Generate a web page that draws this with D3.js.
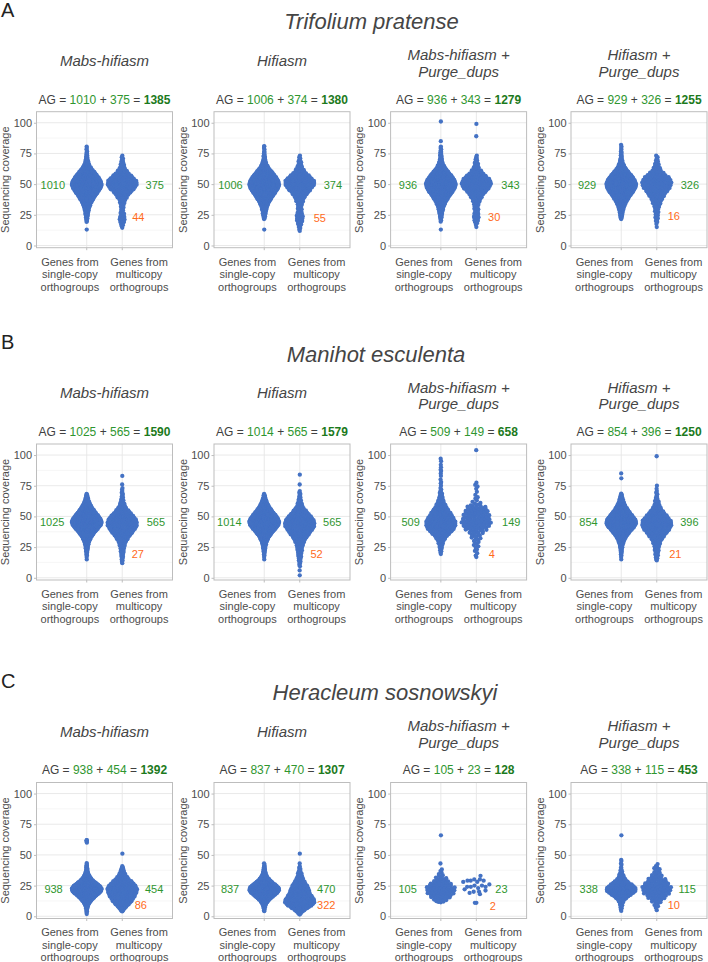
<!DOCTYPE html>
<html><head><meta charset="utf-8">
<script src="https://cdn.jsdelivr.net/npm/d3@7"></script>
<style>
body{margin:0;background:#fff}
svg{display:block}
text{font-family:"Liberation Sans",Arial,Helvetica,sans-serif;white-space:pre}
</style>
</head><body>
<svg id="chart" width="708" height="962"></svg>
<script>
// ---------------- DATA ----------------
const rowLetters = ["A", "B", "C"];
const species = ["Trifolium pratense", "Manihot esculenta", "Heracleum sosnowskyi"];
const methods = [["Mabs-hifiasm"], ["Hifiasm"], ["Mabs-hifiasm +", "Purge_dups"], ["Hifiasm +", "Purge_dups"]];
const categories = [["Genes from", "single-copy", "orthogroups"], ["Genes from", "multicopy", "orthogroups"]];
const yTicks = [0, 25, 50, 75, 100];
const yMinor = [12.5, 37.5, 62.5, 87.5];
const yTitle = "Sequencing coverage";

// gene counts per panel (single-copy, multicopy) and low-coverage multicopy counts
const singleCounts = [[1010, 1006, 936, 929], [1025, 1014, 509, 854], [938, 837, 105, 338]];
const multiCounts = [[375, 374, 343, 326], [565, 565, 149, 396], [454, 470, 23, 115]];
const lowCounts = [[44, 55, 30, 16], [27, 52, 4, 21], [86, 322, 2, 10]];
const lowLabelValue = [[23.2, 22.4, 23, 24.3], [19.5, 19.5, 19, 19.5], [8.7, 8.7, 8.2, 8.7]];

// coverage distributions: number of genes per 2.5-unit coverage bin,
// starting at the given bin centre; order = p1 single, p1 multi, p2 single, ...
const binWidth = 2.5;
const trifoliumStart = [20, 15, 22.5, 12.5, 20, 15, 22.5, 15];
const trifoliumBins = [
  [3,6,9,12,17,23,33,46,60,76,92,108,115,104,90,74,55,35,20,12,7,5,3,2,2],
  [2,4,9,10,6,4,4,5,7,10,16,24,32,44,50,48,36,26,16,9,6,4,3,2],
  [5,9,12,17,23,33,46,60,76,92,106,112,104,90,74,55,35,20,12,7,5,3,2,2],
  [2,3,5,9,11,9,6,5,6,8,11,16,22,30,38,48,46,36,24,14,9,6,4,3,2],
  [2,5,8,11,16,21,31,43,56,71,86,100,104,97,84,68,50,32,19,11,7,5,4,3,2],
  [1,2,6,8,7,5,5,6,8,11,15,22,29,38,44,42,33,24,14,8,6,4,3,2],
  [5,8,11,16,22,32,44,57,72,87,101,104,96,83,66,48,30,18,10,6,4,3,2,2],
  [1,1,3,4,4,4,5,7,10,13,17,22,28,34,38,38,34,22,12,8,6,4,3,2]
];
const trifoliumIsolated = [[13], [], [13, 81], [], [13, 85, 101], [89, 99], [82], []];

const manihotStart = [17.5, 12.5, 17.5, 10, 20, 17.5, 15, 15];
const manihotBins = [
  [2,4,7,10,15,22,34,50,70,92,118,130,122,100,80,60,42,28,17,10,4],
  [2,3,4,6,7,9,12,17,25,35,46,56,64,66,60,50,37,24,14,9,6,4,3,2,2],
  [2,4,7,10,15,22,34,50,70,92,116,126,120,100,80,60,42,28,17,10,4],
  [2,3,5,6,8,9,11,14,19,26,35,45,55,62,63,57,47,34,22,13,8,6,4,3,2],
  [2,3,5,7,10,16,26,38,50,55,55,50,42,36,28,20,14,10,7,5,3,2],
  [2,1,2,2,3,3,4,5,7,12,14,16,13,12,12,12,11,4,2,2,1,1,1,2,1],
  [1,2,3,5,8,12,19,29,43,60,78,100,108,100,80,64,48,34,23,15,9,5],
  [3,4,5,6,7,9,12,18,25,32,40,45,46,40,32,24,16,10,7,5,3,2,2,1,1]
];
const manihotIsolated = [[15], [76, 83], [15], [2, 6, 76, 84], [75, 77, 78, 80, 83, 85, 87, 88, 90, 92, 95, 97], [104], [81, 85], [99]];

const heracleumStart = [2.5, 5, 5, 2.5, 12.5, 0, 5, 5];
const heracleumBins = [
  [2,4,10,22,45,75,110,155,165,140,90,55,30,15,8,5,3],
  [6,14,28,37,44,50,56,58,52,40,26,16,10,6,3],
  [3,8,18,38,68,105,140,150,120,80,48,25,14,8,5,2],
  [6,18,40,62,66,55,42,40,38,30,22,15,10,7,4,2],
  [8,10,13,16,17,14,10,7,4,2,2],
  [],
  [2,4,6,10,22,40,60,66,50,32,18,10,6,3,1],
  [1,2,3,5,9,12,15,16,14,12,9,6,4,3,3,1]
];
const heracleumIsolated = [[60, 61, 62, 62], [51], [], [43, 51], [43, 66],
  [11, 11, 18, 19, 20, 20, 21, 22, 23, 24, 24, 24, 25, 25, 26, 28, 28, 29, 29, 29, 30, 30, 33],
  [42, 43, 45, 46, 66], []];

const rowStarts = [trifoliumStart, manihotStart, heracleumStart];
const rowBins = [trifoliumBins, manihotBins, heracleumBins];
const rowIsolated = [trifoliumIsolated, manihotIsolated, heracleumIsolated];

// ---------------- LAYOUT / STYLE ----------------
const rowTop = [111.7, 444, 782.5];
const panelLeft = [36.5, 214, 390.6, 571];
const panelW = 136, panelH = 136;
const titleX = [371.5, 376, 385];
const catLabelDx = 34.6;
const leftLabelDx = [[21.7, 21.6, 23.7, 25], [22.3, 22.7, 21, 23.6], [24, 25, 24, 23.3]];
const rightLabelDx = [[23.3, 24, 25, 24], [24.4, 23.3, 25.7, 23.4], [22.7, 17.3, 19, 21.7]];
const lowLabelDx = [[10, 14, 11.7, 11], [9.4, 10.7, 12.4, 12.4], [12.4, 17.3, 13.4, 11]];
const C = {
  dot: "#4472c4", green: "#2f962f", greenBold: "#1c7a1c", orange: "#ff6a1a",
  text: "#4d4d4d", title: "#454545", grid: "#e6e6e6", minor: "#f2f2f2", border: "#bdbdbd"
};
const quasiWidth = 0.42;
const dotR = 2.15;

// ---------------- HELPERS ----------------
function vdc(n) { let v = 0, d = 1; while (n > 0) { d *= 2; v += (n % 2) / d; n = Math.floor(n / 2); } return v; }

function groupValues(start, counts, extra) {
  const vals = [];
  counts.forEach((c, i) => {
    const centre = start + i * binWidth;
    for (let j = 0; j < c; j++) vals.push(centre - binWidth / 2 + (j + 0.5) * binWidth / c);
  });
  return vals.concat(extra);
}

function quasiOffsets(vals) {
  const n = vals.length;
  if (n < 2) return vals.map(() => 0);
  const sorted = vals.slice().sort((a, b) => a - b);
  const sd = d3.deviation(sorted);
  const iqr = d3.quantile(sorted, 0.75) - d3.quantile(sorted, 0.25);
  let lo = Math.min(sd, iqr / 1.34); if (!(lo > 0)) lo = sd || 1;
  const bw = 0.9 * lo * Math.pow(n, -0.2);
  const dens = vals.map(v => { let s = 0; for (const w of sorted) { const z = (v - w) / bw; s += Math.exp(-0.5 * z * z); } return s; });
  const mx = d3.max(dens);
  const order = d3.range(n).sort((a, b) => vals[a] - vals[b]);
  const rank = new Array(n); order.forEach((idx, r) => rank[idx] = r + 1);
  return vals.map((v, i) => (vdc(rank[i]) - 0.5) * 2 * dens[i] / mx);
}

// ---------------- DRAW ----------------
const svg = d3.select("#chart");

rowLetters.forEach((letter, r) => {
  const top = rowTop[r];
  const y = d3.scaleLinear().domain([-1.8, 109]).range([top + panelH, top]);
  const g = svg.append("g");

  g.append("text").attr("x", 1).attr("y", top - 94.8).attr("font-size", 20).attr("fill", "#222").text(letter);
  g.append("text").attr("x", titleX[r]).attr("y", top - 82.5).attr("text-anchor", "middle")
    .attr("font-size", 22).attr("font-style", "italic").attr("fill", C.title).text(species[r]);

  methods.forEach((m, p) => {
    const left = panelLeft[p];
    const cx = left + panelW / 2;
    const x = d3.scalePoint().domain([0, 1]).range([left, left + panelW]).padding(1.415);
    const step = x.step();
    const pg = g.append("g");

    // subtitle
    const subs = m.length === 1 ? [top - 51] : [top - 56.5, top - 40];
    m.forEach((s, i) => pg.append("text").attr("x", cx).attr("y", subs[i]).attr("dy", "0.35em")
      .attr("text-anchor", "middle").attr("font-size", 15).attr("font-style", "italic").attr("fill", C.title).text(s));

    // AG line
    const sc = singleCounts[r][p], mc = multiCounts[r][p];
    const ag = pg.append("text").attr("x", cx).attr("y", top - 12.3).attr("dy", "0.35em")
      .attr("text-anchor", "middle").attr("font-size", 12).attr("fill", "#404040");
    ag.append("tspan").text("AG = ");
    ag.append("tspan").attr("fill", C.green).text(sc);
    ag.append("tspan").text(" + ");
    ag.append("tspan").attr("fill", C.green).text(mc);
    ag.append("tspan").text(" = ");
    ag.append("tspan").attr("fill", C.greenBold).attr("font-weight", "bold").text(sc + mc);

    // grid
    pg.selectAll(".mn").data(yMinor).join("line").attr("x1", left).attr("x2", left + panelW)
      .attr("y1", d => y(d)).attr("y2", d => y(d)).attr("stroke", C.minor).attr("stroke-width", 0.7);
    pg.selectAll(".mj").data(yTicks).join("line").attr("x1", left).attr("x2", left + panelW)
      .attr("y1", d => y(d)).attr("y2", d => y(d)).attr("stroke", C.grid).attr("stroke-width", 0.9);
    pg.selectAll(".vx").data([0, 1]).join("line").attr("x1", d => x(d)).attr("x2", d => x(d))
      .attr("y1", top).attr("y2", top + panelH).attr("stroke", C.grid).attr("stroke-width", 0.9);

    // y axis
    const yAxis = d3.axisLeft(y).tickValues(yTicks).tickSize(2.5).tickPadding(2);
    const ya = pg.append("g").attr("transform", `translate(${left},0)`).call(yAxis);
    ya.select(".domain").remove();
    ya.selectAll(".tick line").attr("stroke", C.border);
    ya.selectAll(".tick text").attr("fill", C.text).attr("font-size", 11)
      .attr("font-family", "'Liberation Sans',Arial,sans-serif");
    pg.append("text").attr("transform", `translate(${left - 31},${top + panelH / 2}) rotate(-90)`)
      .attr("text-anchor", "middle").attr("dy", "0.35em").attr("font-size", 11).attr("fill", C.text).text(yTitle);

    // x axis ticks & labels
    [0, 1].forEach(k => {
      pg.append("line").attr("x1", x(k)).attr("x2", x(k)).attr("y1", top + panelH).attr("y2", top + panelH + 2.5).attr("stroke", C.border);
      const lx = cx + (k === 0 ? -catLabelDx : catLabelDx);
      categories[k].forEach((t, i) => pg.append("text").attr("x", lx).attr("y", top + panelH + 14 + i * 12.5)
        .attr("dy", "0.35em").attr("text-anchor", "middle").attr("font-size", 11).attr("fill", C.text).text(t));
    });

    // border
    pg.append("rect").attr("x", left).attr("y", top).attr("width", panelW).attr("height", panelH)
      .attr("fill", "none").attr("stroke", C.border).attr("stroke-width", 1);

    // points
    const groups = [0, 1].map(k => {
      const idx = p * 2 + k;
      return groupValues(rowStarts[r][idx], rowBins[r][idx], rowIsolated[r][idx]);
    });
    groups.forEach((vals, k) => {
      const offs = quasiOffsets(vals);
      const pts = vals.map((v, i) => ({ v, o: offs[i] }));
      pg.append("g").selectAll("circle").data(pts).join("circle")
        .attr("cx", d => x(k) + d.o * quasiWidth * step)
        .attr("cy", d => y(d.v)).attr("r", dotR).attr("fill", C.dot);
    });

    // count labels
    const labelV = d3.median(groups[0]);
    pg.append("text").attr("x", x(0) - leftLabelDx[r][p]).attr("y", y(labelV)).attr("dy", "0.35em").attr("text-anchor", "end")
      .attr("font-size", 11).attr("fill", C.green).text(sc);
    pg.append("text").attr("x", x(1) + rightLabelDx[r][p]).attr("y", y(labelV)).attr("dy", "0.35em").attr("text-anchor", "start")
      .attr("font-size", 11).attr("fill", C.green).text(mc);
    pg.append("text").attr("x", x(1) + lowLabelDx[r][p]).attr("y", y(lowLabelValue[r][p])).attr("dy", "0.35em").attr("text-anchor", "start")
      .attr("font-size", 11).attr("fill", C.orange).text(lowCounts[r][p]);
  });
});
</script>
</body></html>
